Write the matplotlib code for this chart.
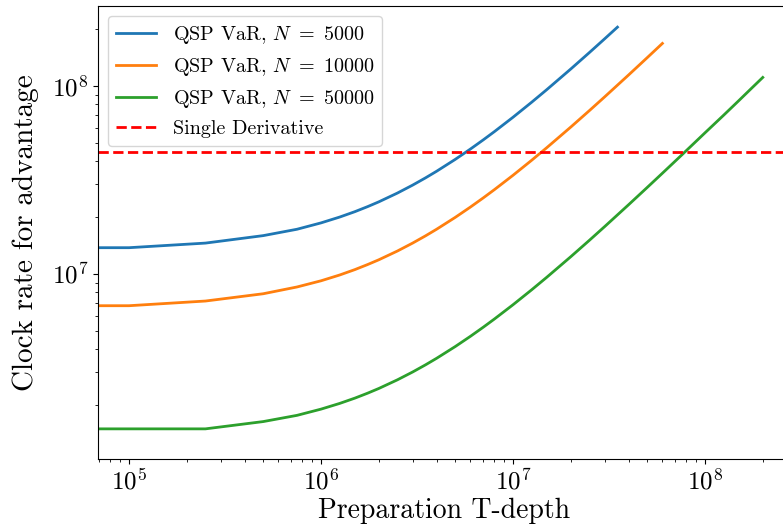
import numpy as np
import matplotlib
matplotlib.use("Agg")
import matplotlib.pyplot as plt

plt.rcParams['font.family'] = 'serif'
plt.rcParams['font.serif'] = ['cmr10']
plt.rcParams['mathtext.fontset'] = 'cm'
plt.rcParams['axes.formatter.use_mathtext'] = True

# preparation T-depth grid
t_5000 = [5e4, 1e5, 2.5e5, 5e5, 7.5e5, 1e6, 1.25e6, 1.5e6, 1.75e6, 2e6, 2.5e6, 3e6,
          3.5e6, 4e6, 5e6, 6e6, 7e6, 8e6, 1e7, 1.25e7, 1.5e7, 2e7, 2.5e7, 3e7, 3.5e7]
t_10000 = [5e4, 1e5, 2.5e5, 5e5, 7.5e5, 1e6, 1.25e6, 1.5e6, 1.75e6, 2e6, 2.5e6, 3e6,
           3.5e6, 4e6, 5e6, 6e6, 7e6, 8e6, 1e7, 1.25e7, 1.5e7, 2e7, 2.5e7, 3e7,
           4e7, 5e7, 6e7]
t_50000 = [5e4, 2.5e5, 5e5, 7.5e5, 1e6, 1.25e6, 1.5e6, 1.75e6, 2e6, 2.5e6, 3e6,
           3.5e6, 4e6, 5e6, 6e6, 7e6, 8e6, 1e7, 1.25e7, 1.5e7, 2e7, 2.5e7, 3e7,
           4e7, 5e7, 6e7, 7.5e7, 1e8, 1.25e8, 1.5e8, 1.75e8, 2e8]

# clock rate for advantage
rate_5000 = [1.38e7, 1.38e7, 1.46e7, 1.60e7, 1.73e7, 1.87e7, 2.008e7, 2.145e7, 2.283e7,
             2.42e7, 2.695e7, 2.97e7, 3.245e7, 3.52e7, 4.07e7, 4.62e7, 5.17e7, 5.72e7,
             6.82e7, 8.195e7, 9.57e7, 1.232e8, 1.507e8, 1.782e8, 2.057e8]
rate_10000 = [6.78e6, 6.78e6, 7.18e6, 7.85e6, 8.53e6, 9.2e6, 9.875e6, 1.055e7, 1.123e7,
              1.19e7, 1.325e7, 1.46e7, 1.595e7, 1.73e7, 2.0e7, 2.27e7, 2.54e7, 2.81e7,
              3.35e7, 4.025e7, 4.7e7, 6.05e7, 7.4e7, 8.75e7, 1.145e8, 1.415e8, 1.685e8]
rate_50000 = [1.5e6, 1.5e6, 1.64e6, 1.77e6, 1.91e6, 2.048e6, 2.185e6, 2.323e6, 2.46e6,
              2.735e6, 3.01e6, 3.285e6, 3.56e6, 4.11e6, 4.66e6, 5.21e6, 5.76e6, 6.86e6,
              8.235e6, 9.61e6, 1.236e7, 1.511e7, 1.786e7, 2.336e7, 2.886e7, 3.436e7,
              4.26e7, 5.636e7, 6.99e7, 8.36e7, 9.74e7, 1.111e8]

single_derivative = 4.46e7

fig = plt.figure(figsize=(7.83, 5.31), dpi=100)
ax = fig.add_axes([0.1252, 0.1356, 0.885, 0.8531])

ax.plot(t_5000, rate_5000, lw=2, label=r'QSP VaR, $N\ =\ 5000$')
ax.plot(t_10000, rate_10000, lw=2, label=r'QSP VaR, $N\ =\ 10000$')
ax.plot(t_50000, rate_50000, lw=2, label=r'QSP VaR, $N\ =\ 50000$')
ax.axhline(single_derivative, color='red', ls='--', lw=2, label='Single Derivative')

ax.set_xscale('log')
ax.set_yscale('log')
ax.set_xlim(6.896e4, 2.805e8)
ax.set_ylim(1.037e6, 2.665e8)

ax.tick_params(axis='both', which='major', labelsize=18)
ax.set_xlabel('Preparation T-depth', fontsize=20, labelpad=2)
ax.set_ylabel('Clock rate for advantage', fontsize=21, labelpad=9)

ax.legend(loc='upper left', fontsize=14.5)

fig.savefig('out.png', dpi=100)
